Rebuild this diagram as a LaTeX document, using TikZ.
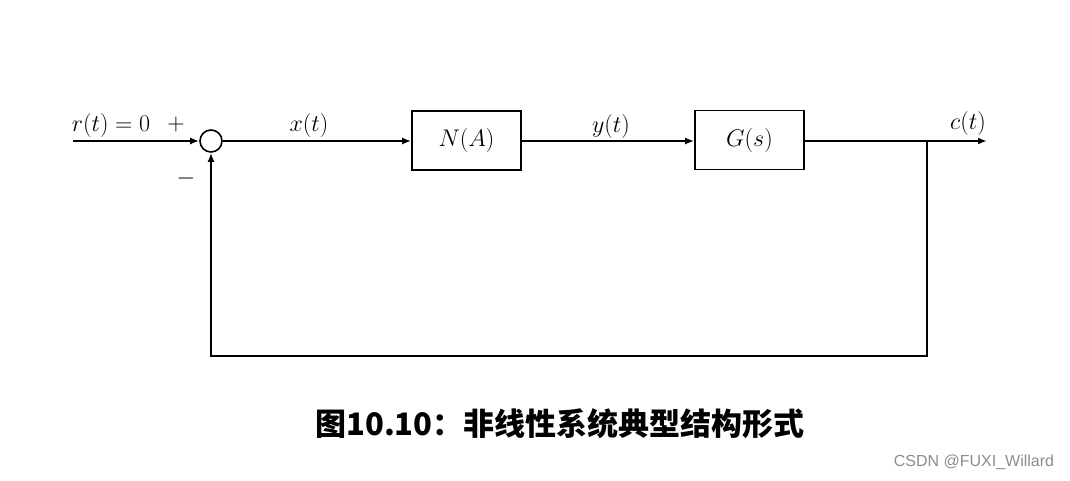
\documentclass[tikz,border=0pt]{standalone}
\usepackage{fontspec}
\usepackage{amsmath}
\usepackage{fix-cm}
\newfontfamily\cjk{Noto Sans CJK SC}
\newfontfamily\wmfont{Liberation Sans}
\usetikzlibrary{arrows.meta}
\begin{document}
\begin{tikzpicture}[x=1pt,y=-1pt,
  line width=1.8pt,
  blk/.style={draw,line width=1.6pt,minimum width=109pt,minimum height=59pt,inner sep=0pt},
  sumc/.style={draw,line width=1.6pt,circle,minimum size=22pt,inner sep=0pt},
  lab/.style={inner sep=0pt,font=\fontsize{24}{28}\selectfont},
  arr/.style={-{Latex[length=9pt,width=7pt]}}]
\useasboundingbox (0,0) rectangle (1070,480);
\node[sumc] (sum) at (211,141) {};
\node[blk] (na) at (466.5,140.5) {};
\node[lab] at (na.center) {$N(A)$};
\node[blk] (gs) at (749.5,140) {};
\node[lab] at (gs.center) {$G(s)$};
\coordinate (in) at (73,141);
\coordinate (out) at (987,141);
\coordinate (br) at (927,141);
\coordinate (bd) at (927,356);
\coordinate (bl) at (211,356);
\draw[arr] (in) -- (sum.west);
\draw[arr] (sum.east) -- (na.west|-sum.east);
\draw[arr] (na.east|-sum) -- (gs.west|-sum);
\draw[arr] (gs.east|-sum) -- (out);
\draw[arr,line cap=rect] (br) -- (bd) -- (bl) -- (sum.south);
\node[lab] (rl) at (111,125) {$r(t)=0$};
\node[lab] (pl) at (176,124) {$+$};
\node[lab] (ml) at (186,178) {$-$};
\node[lab] (xl) at (309,125) {$x(t)$};
\node[lab] (yl) at (611,126) {$y(t)$};
\node[lab] (cl) at (968,123) {$c(t)$};
\node[inner sep=0pt,font=\cjk\bfseries\fontsize{31}{36}\selectfont] (cap) at (560,424) {图10.10：非线性系统典型结构形式};
\node[inner sep=0pt,text=black!45,font=\wmfont\fontsize{16}{19}\selectfont] (wm) at (974,462) {CSDN @FUXI\_Willard};
\end{tikzpicture}
\end{document}
